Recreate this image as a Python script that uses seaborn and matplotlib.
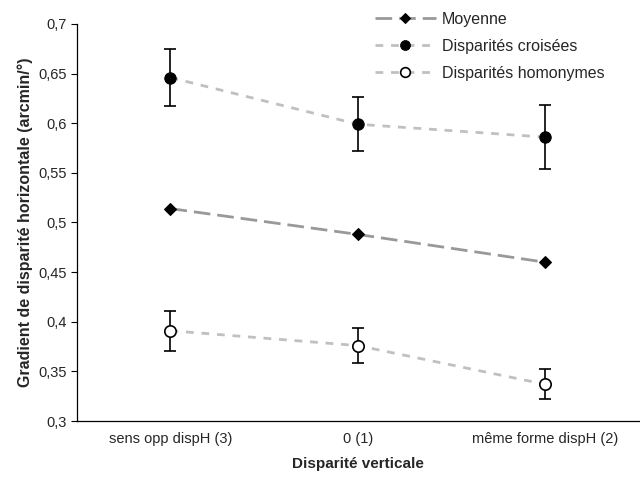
import matplotlib
matplotlib.use("Agg")
import matplotlib.pyplot as plt
import seaborn as sns
import pandas as pd
from matplotlib.ticker import FuncFormatter, FixedLocator

categories = ["sens opp dispH (3)", "0 (1)", "même forme dispH (2)"]
moyenne = [0.514, 0.488, 0.460]
croisees = [0.646, 0.599, 0.586]
croisees_err = [0.029, 0.027, 0.032]
homonymes = [0.391, 0.376, 0.337]
homonymes_err = [0.020, 0.018, 0.015]

sns.set_style("white")
plt.rcParams['font.family'] = ['Liberation Sans', 'DejaVu Sans']

fig = plt.figure(figsize=(6.4, 4.79), dpi=100)
ax = fig.add_axes([0.12, 0.121, 0.878, 0.829])

df = pd.DataFrame({
    "cat": categories * 3,
    "val": moyenne + croisees + homonymes,
    "serie": ["Moyenne"] * 3 + ["Disparités croisées"] * 3 + ["Disparités homonymes"] * 3,
})

sns.lineplot(data=df[df.serie == "Moyenne"], x="cat", y="val", ax=ax, sort=False,
             color="#999999", lw=2.0, linestyle=(0, (6, 2.5)),
             marker="D", markersize=6.5, markerfacecolor="black", markeredgecolor="black",
             label="Moyenne")
sns.lineplot(data=df[df.serie == "Disparités croisées"], x="cat", y="val", ax=ax, sort=False,
             color="#c0c0c0", lw=2.0, linestyle=(0, (2.8, 2.8)),
             marker="o", markersize=8.2, markerfacecolor="black", markeredgecolor="black",
             label="Disparités croisées")
sns.lineplot(data=df[df.serie == "Disparités homonymes"], x="cat", y="val", ax=ax, sort=False,
             color="#c0c0c0", lw=2.0, linestyle=(0, (2.8, 2.8)),
             marker="o", markersize=8.2, markerfacecolor="white", markeredgecolor="black",
             markeredgewidth=1.2, label="Disparités homonymes")

xpos = list(range(len(categories)))
ax.errorbar(xpos, croisees, yerr=croisees_err, fmt="none", ecolor="black",
            elinewidth=1.2, capsize=4.2, capthick=1.2, zorder=1)
ax.errorbar(xpos, homonymes, yerr=homonymes_err, fmt="none", ecolor="black",
            elinewidth=1.2, capsize=4.2, capthick=1.2, zorder=1)

ax.set_xlim(-0.5, 2.5)
ax.set_ylim(0.3, 0.7)
ax.set_yticks([0.3, 0.35, 0.4, 0.45, 0.5, 0.55, 0.6, 0.65, 0.7])
ax.yaxis.set_major_formatter(FuncFormatter(lambda v, p: ("%g" % round(v, 2)).replace(".", ",")))
ax.set_xticks(xpos)
ax.set_xticklabels(categories)
ax.xaxis.set_minor_locator(FixedLocator([0.5, 1.5]))
ax.tick_params(axis="x", which="major", length=0, labelsize=10.5, pad=8)
ax.tick_params(axis="x", which="minor", length=4, width=0.8, direction="in", color="black")
ax.tick_params(axis="y", which="major", length=4, width=0.8, direction="out", color="black",
               labelsize=10.5, left=True, pad=3)

for s in ["top", "right"]:
    ax.spines[s].set_visible(False)
for s in ["left", "bottom"]:
    ax.spines[s].set_color("black")
    ax.spines[s].set_linewidth(0.9)

ax.set_xlabel("Disparité verticale", fontsize=11, fontweight="bold", labelpad=8)
ax.set_ylabel("Gradient de disparité horizontale (arcmin/°)", fontsize=11.5, fontweight="bold", labelpad=4)

ax.legend(loc="upper left", bbox_to_anchor=(0.505, 1.067), frameon=False, fontsize=11.5,
          handlelength=3.8, labelspacing=0.75, handletextpad=0.4, markerscale=0.85)

fig.savefig("out.png", dpi=100)
